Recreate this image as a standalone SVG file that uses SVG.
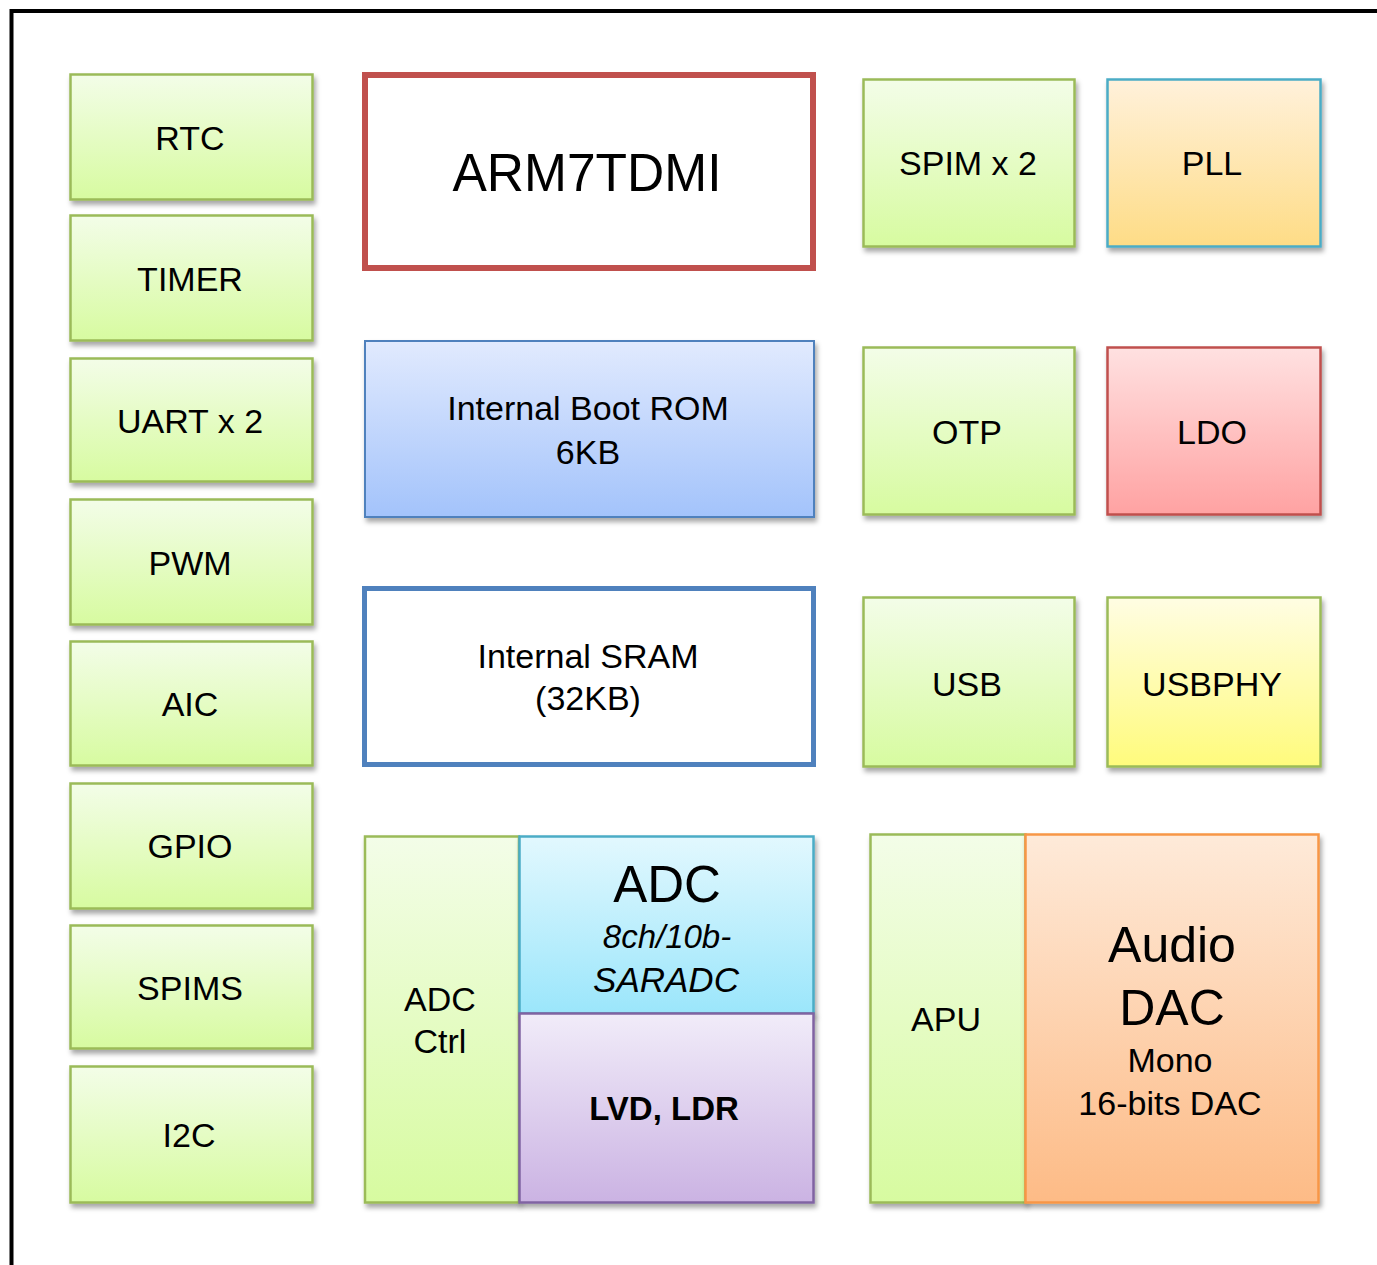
<svg xmlns="http://www.w3.org/2000/svg" width="1377" height="1265" viewBox="0 0 1377 1265">
<defs>
  <linearGradient id="gGreen" x1="0" y1="0" x2="0" y2="1">
    <stop offset="0" stop-color="#f3fde8"/>
    <stop offset="1" stop-color="#d7fba0"/>
  </linearGradient>
  <linearGradient id="gBlue" x1="0" y1="0" x2="0" y2="1">
    <stop offset="0" stop-color="#e1eafe"/>
    <stop offset="1" stop-color="#a3c3fb"/>
  </linearGradient>
  <linearGradient id="gOrangeLight" x1="0" y1="0" x2="0" y2="1">
    <stop offset="0" stop-color="#fff1db"/>
    <stop offset="1" stop-color="#fedc86"/>
  </linearGradient>
  <linearGradient id="gRed" x1="0" y1="0" x2="0" y2="1">
    <stop offset="0" stop-color="#ffe1e1"/>
    <stop offset="1" stop-color="#ffa2a2"/>
  </linearGradient>
  <linearGradient id="gYellow" x1="0" y1="0" x2="0" y2="1">
    <stop offset="0" stop-color="#fffde3"/>
    <stop offset="1" stop-color="#fffb7c"/>
  </linearGradient>
  <linearGradient id="gCyan" x1="0" y1="0" x2="0" y2="1">
    <stop offset="0" stop-color="#e2f8fe"/>
    <stop offset="1" stop-color="#9be6fb"/>
  </linearGradient>
  <linearGradient id="gPurple" x1="0" y1="0" x2="0" y2="1">
    <stop offset="0" stop-color="#f1ecf9"/>
    <stop offset="1" stop-color="#cbb3e3"/>
  </linearGradient>
  <linearGradient id="gPeach" x1="0" y1="0" x2="0" y2="1">
    <stop offset="0" stop-color="#feead9"/>
    <stop offset="1" stop-color="#fdbb86"/>
  </linearGradient>
  <filter id="shadow" x="-10%" y="-10%" width="125%" height="130%">
    <feDropShadow dx="2" dy="4" stdDeviation="2.5" flood-color="#000" flood-opacity="0.35"/>
  </filter>
</defs>
<style>
  text { font-family: "Liberation Sans", Arial, sans-serif; fill: #000; text-anchor: middle; }
  .lbl { font-size: 34px; }
  .green { fill: url(#gGreen); stroke: #9bbb59; stroke-width: 2.5; filter: url(#shadow); }
  .blue { fill: url(#gBlue); stroke: #4f81bd; stroke-width: 2; filter: url(#shadow); }
  .pll { fill: url(#gOrangeLight); stroke: #4bacc6; stroke-width: 2.5; filter: url(#shadow); }
  .ldo { fill: url(#gRed); stroke: #c0504d; stroke-width: 2.5; filter: url(#shadow); }
  .usbphy { fill: url(#gYellow); stroke: #9bbb59; stroke-width: 2.5; filter: url(#shadow); }
  .adc { fill: url(#gCyan); stroke: #4bacc6; stroke-width: 2.5; }
  .lvd { fill: url(#gPurple); stroke: #8064a2; stroke-width: 2.5; }
  .dac { fill: url(#gPeach); stroke: #f79646; stroke-width: 2.5; }
</style>
<rect x="0" y="0" width="1377" height="1265" fill="#ffffff"/>
<path d="M11.5,1265 V11 H1377" fill="none" stroke="#000" stroke-width="4"/>

<g id="RTC"><rect class="green" x="70.5" y="74.5" width="242" height="125"/><text class="lbl" x="190" y="150">RTC</text></g>
<g id="TIMER"><rect class="green" x="70.5" y="215.5" width="242" height="125"/><text class="lbl" x="190" y="291">TIMER</text></g>
<g id="UART"><rect class="green" x="70.5" y="358.5" width="242" height="123"/><text class="lbl" x="190" y="433">UART x 2</text></g>
<g id="PWM"><rect class="green" x="70.5" y="499.5" width="242" height="125"/><text class="lbl" x="190" y="575">PWM</text></g>
<g id="AIC"><rect class="green" x="70.5" y="641.5" width="242" height="124"/><text class="lbl" x="190" y="716">AIC</text></g>
<g id="GPIO"><rect class="green" x="70.5" y="783.5" width="242" height="125"/><text class="lbl" x="190" y="858">GPIO</text></g>
<g id="SPIMS"><rect class="green" x="70.5" y="925.5" width="242" height="123"/><text class="lbl" x="190" y="1000">SPIMS</text></g>
<g id="I2C"><rect class="green" x="70.5" y="1066.5" width="242" height="136"/><text class="lbl" x="189" y="1147">I2C</text></g>

<g id="ARM7TDMI"><rect x="365" y="75" width="448" height="193" fill="#ffffff" stroke="#c0504d" stroke-width="6"/><text x="587" y="191" font-size="54" textLength="269" lengthAdjust="spacingAndGlyphs">ARM7TDMI</text></g>
<g id="BootROM"><rect class="blue" x="365" y="341" width="449" height="176"/><text class="lbl" x="588" y="420" font-size="33">Internal Boot ROM</text><text class="lbl" x="588" y="464" font-size="33">6KB</text></g>
<g id="SRAM"><rect x="364.5" y="588.5" width="449" height="176" fill="#ffffff" stroke="#4f81bd" stroke-width="5"/><text class="lbl" x="588" y="668" font-size="33">Internal SRAM</text><text class="lbl" x="588" y="710" font-size="33">(32KB)</text></g>

<g id="ADCCtrl"><rect class="green" x="365" y="836.5" width="154" height="366"/><text class="lbl" x="440" y="1011">ADC</text><text class="lbl" x="440" y="1053">Ctrl</text></g>
<g id="ADC"><rect class="adc" x="519.5" y="836.5" width="294" height="177" filter="url(#shadow)"/><text x="667" y="902" font-size="51">ADC</text><text x="667" y="948" font-size="33" font-style="italic">8ch/10b-</text><text x="666" y="992" font-size="35" font-style="italic">SARADC</text></g>
<g id="LVD"><rect class="lvd" x="519.5" y="1013.5" width="294" height="189" filter="url(#shadow)"/><text x="664" y="1120" font-size="33" font-weight="bold">LVD, LDR</text></g>

<g id="SPIM"><rect class="green" x="863.5" y="79.5" width="211" height="167"/><text class="lbl" x="968" y="175">SPIM x 2</text></g>
<g id="PLL"><rect class="pll" x="1107.5" y="79.5" width="213" height="167"/><text class="lbl" x="1212" y="175">PLL</text></g>
<g id="OTP"><rect class="green" x="863.5" y="347.5" width="211" height="167"/><text class="lbl" x="967" y="444">OTP</text></g>
<g id="LDO"><rect class="ldo" x="1107.5" y="347.5" width="213" height="167"/><text class="lbl" x="1212" y="444">LDO</text></g>
<g id="USB"><rect class="green" x="863.5" y="597.5" width="211" height="169"/><text class="lbl" x="967" y="696">USB</text></g>
<g id="USBPHY"><rect class="usbphy" x="1107.5" y="597.5" width="213" height="169"/><text class="lbl" x="1212" y="696">USBPHY</text></g>

<g id="APU"><rect class="green" x="870.5" y="834.5" width="155" height="368"/><text class="lbl" x="946" y="1031">APU</text></g>
<g id="AudioDAC"><rect class="dac" x="1025.5" y="834.5" width="293" height="368" filter="url(#shadow)"/><text x="1172" y="962" font-size="50">Audio</text><text x="1172" y="1025" font-size="50">DAC</text><text x="1170" y="1072" font-size="34">Mono</text><text x="1170" y="1115" font-size="34">16-bits DAC</text></g>

<g id="connectors"></g>
</svg>
